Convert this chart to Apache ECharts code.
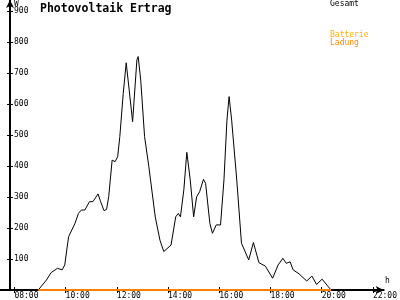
<!DOCTYPE html>
<html>
<head>
<meta charset="utf-8">
<script src="https://cdn.jsdelivr.net/npm/echarts@6/dist/echarts.min.js"></script>
<style>html,body{margin:0;padding:0;background:#fff}#c{width:400px;height:300px}</style>
</head>
<body>
<div id="c"></div>
<script>
var times = ["08:56","09:15","09:26","09:41","09:52","09:58","10:07","10:22","10:30","10:37","10:45","10:56","11:04","11:07","11:16","11:22","11:30","11:36","11:41","11:49","11:56","12:02","12:07","12:15","12:22","12:26","12:37","12:47","12:50","12:56","13:05","13:15","13:30","13:41","13:50","14:07","14:18","14:24","14:29","14:37","14:44","14:52","15:00","15:07","15:14","15:18","15:23","15:28","15:38","15:44","15:53","16:03","16:11","16:18","16:23","16:29","16:41","16:52","17:09","17:20","17:33","17:48","18:05","18:18","18:29","18:37","18:46","18:53","19:07","19:25","19:37","19:48","20:01","20:14","20:22"];
var gesamt = [0,32,56,70,65,81,172,215,247,258,258,285,285,290,310,285,256,260,301,419,414,430,495,634,733,733,543,742,753,677,495,398,236,161,124,145,236,247,236,323,444,355,236,301,317,323,357,344,215,183,210,210,355,548,624,548,355,151,97,153,88,77,38,81,102,86,91,65,52,29,45,18,35,13,0];
var batterieLadung = [0,0,0,0,0,0,0,0,0,0,0,0,0,0,0,0,0,0,0,0,0,0,0,0,0,0,0,0,0,0,0,0,0,0,0,0,0,0,0,0,0,0,0,0,0,0,0,0,0,0,0,0,0,0,0,0,0,0,0,0,0,0,0,0,0,0,0,0,0,0,0,0,0,0,0];
var xTicks = [8,10,12,14,16,18,20,22];
var yTicks = [100,200,300,400,500,600,700,800,900];
var seriesNames = ["Gesamt","Batterie Ladung"];

function toH(t){var p=t.split(":");return +p[0]+(+p[1])/60;}
function pairs(vals){return times.map(function(t,i){return [toH(t),vals[i]];});}
function fmtH(v){var h=Math.round(v);return (h<10?"0":"")+h+":00";}

var FONT = "DejaVu Sans Mono";
var chart = echarts.init(document.getElementById('c'), null, {renderer:'canvas'});
var axBase = {
  type:'value', min:7.438, max:22.42, splitLine:{show:false}, position:'bottom'
};
chart.setOption({
  backgroundColor:'#fff',
  animation:false,
  title:{text:'Photovoltaik Ertrag', left:40, top:3, padding:0, textStyle:{fontFamily:FONT, fontWeight:'bold', fontSize:11.5, color:'#000'}},
  legend:[
    {data:[seriesNames[0]], left:325, top:0, icon:'none', itemWidth:0, itemHeight:8, padding:0,
     textStyle:{fontFamily:FONT, fontSize:8, color:'#000'}},
    {data:[seriesNames[1]], left:325, top:31, icon:'none', itemWidth:0, itemHeight:8, padding:0,
     formatter:function(n){var p=n.split(' ');return '{a|'+p[0]+'}\n{b|'+p[1]+'}';},
     textStyle:{fontFamily:FONT, fontSize:8, lineHeight:8,
       rich:{a:{color:'#FFB000',fontFamily:FONT,fontSize:8,lineHeight:8},b:{color:'#FF8C00',fontFamily:FONT,fontSize:8,lineHeight:8}}}}
  ],
  grid:{left:0, right:0, top:0, bottom:10},
  xAxis:[
    Object.assign({}, axBase, {
      axisLine:{show:true, lineStyle:{color:'#000', width:2}, symbol:['none','arrow'], symbolSize:[6,8]},
      axisTick:{show:true, inside:false, length:3, customValues:xTicks, lineStyle:{color:'#000'}},
      axisLabel:{show:true, customValues:xTicks, formatter:fmtH, align:'left', margin:2, fontFamily:FONT, fontSize:8, color:'#000'}
    }),
    Object.assign({}, axBase, {
      axisLine:{show:false},
      axisTick:{show:true, inside:true, length:3, customValues:xTicks, lineStyle:{color:'#000'}},
      axisLabel:{show:false}
    })
  ],
  yAxis:[
    {type:'value', position:'left', min:0, max:935.5, offset:-10, splitLine:{show:false},
     axisLine:{show:true, lineStyle:{color:'#000', width:2}, symbol:['none','arrow'], symbolSize:[6,8]},
     axisTick:{show:true, inside:true, length:3, customValues:yTicks, lineStyle:{color:'#000'}},
     axisLabel:{show:true, inside:true, margin:4, customValues:yTicks, fontFamily:FONT, fontSize:8, color:'#000'}},
    {type:'value', position:'left', min:0, max:935.5, offset:-10, splitLine:{show:false},
     axisLine:{show:false},
     axisTick:{show:true, inside:false, length:3, customValues:yTicks, lineStyle:{color:'#000'}},
     axisLabel:{show:false}}
  ],
  graphic:[
    {type:'text', left:14, top:0, style:{text:'W', font:'8px "DejaVu Sans Mono"', fill:'#000'}},
    {type:'text', left:385, top:277, style:{text:'h', font:'8px "DejaVu Sans Mono"', fill:'#000'}}
  ],
  series:[
    {name:seriesNames[0], type:'line', data:pairs(gesamt), showSymbol:false, color:'#000',
     lineStyle:{color:'#000', width:1}, z:3},
    {name:seriesNames[1], type:'line', data:pairs(batterieLadung), showSymbol:false, color:'#FF8C00',
     lineStyle:{color:'#FF8000', width:2}, z:4}
  ]
});
</script>
</body>
</html>
